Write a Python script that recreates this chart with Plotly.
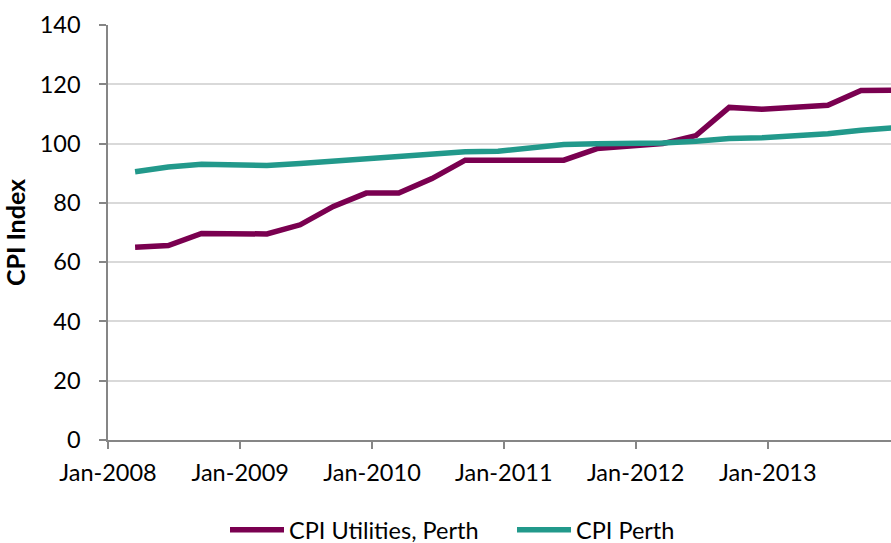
import plotly.graph_objects as go

dates = [
    "2008-03-16", "2008-06-16", "2008-09-16", "2008-12-16",
    "2009-03-16", "2009-06-16", "2009-09-16", "2009-12-16",
    "2010-03-16", "2010-06-16", "2010-09-16", "2010-12-16",
    "2011-03-16", "2011-06-16", "2011-09-16", "2011-12-16",
    "2012-03-16", "2012-06-16", "2012-09-16", "2012-12-16",
    "2013-03-16", "2013-06-16", "2013-09-16", "2013-12-16",
]
cpi_utilities_perth = [
    65.0, 65.6, 69.7, 69.6, 69.5, 72.6, 78.8, 83.3,
    83.3, 88.2, 94.4, 94.4, 94.4, 94.4, 98.3, 99.0,
    100.0, 102.7, 112.2, 111.6, 112.3, 112.9, 117.9, 118.0,
]
cpi_perth = [
    90.5, 92.1, 93.0, 92.8, 92.6, 93.3, 94.1, 94.7,
    95.7, 96.6, 97.2, 97.4, 98.4, 99.7, 99.9, 100.0,
    100.2, 100.8, 101.7, 102.0, 102.6, 103.3, 104.5, 105.3,
]
tick_dates = ["2008-01-01", "2009-01-01", "2010-01-01", "2011-01-01", "2012-01-01", "2013-01-01"]
tick_labels = ["Jan-2008", "Jan-2009", "Jan-2010", "Jan-2011", "Jan-2012", "Jan-2013"]
y_ticks = [0, 20, 40, 60, 80, 100, 120, 140]

FONT = "Lato"
FS = 23.5
axis_col = "#868686"

fig = go.Figure()
fig.add_trace(go.Scatter(x=dates, y=cpi_utilities_perth, mode="lines",
                         name="CPI Utilities, Perth",
                         line=dict(color="#7A0050", width=5.5)))
fig.add_trace(go.Scatter(x=dates, y=cpi_perth, mode="lines",
                         name="CPI Perth",
                         line=dict(color="#22998B", width=5.5)))

fig.update_layout(
    width=891, height=543, autosize=False,
    margin=dict(l=108, r=0, t=25, b=103),
    paper_bgcolor="white", plot_bgcolor="white",
    font=dict(family=FONT, size=FS, color="#000000"),
    showlegend=True,
    legend=dict(orientation="h", xref="container", x=225 / 891, xanchor="left",
                yref="container", y=13 / 543, yanchor="middle",
                font=dict(family=FONT, size=FS), itemwidth=54, entrywidth=218,
                traceorder="normal"),
    xaxis=dict(
        type="date", range=["2008-01-01", "2013-12-08"],
        tickvals=tick_dates, ticktext=tick_labels,
        showgrid=False, showline=True, linecolor=axis_col, linewidth=1.5,
        ticks="outside", ticklen=7, tickcolor=axis_col, tickwidth=1.5,
        ticklabelstandoff=4,
        tickfont=dict(family=FONT, size=FS),
    ),
    yaxis=dict(
        range=[0, 140], tickvals=y_ticks,
        showgrid=True, gridcolor="#D9D9D9", gridwidth=1.5, zeroline=False,
        showline=True, linecolor=axis_col, linewidth=1.5,
        ticks="outside", ticklen=7, tickcolor=axis_col, tickwidth=1.5,
        ticklabelstandoff=14,
        tickfont=dict(family=FONT, size=FS),
        title=dict(text="<b>CPI Index</b>", font=dict(family=FONT, size=25), standoff=11),
    ),
)

fig.write_html("out.html", config={"responsive": False, "displayModeBar": False},
               post_script="document.body.style.margin='0';document.body.style.overflow='hidden';")
